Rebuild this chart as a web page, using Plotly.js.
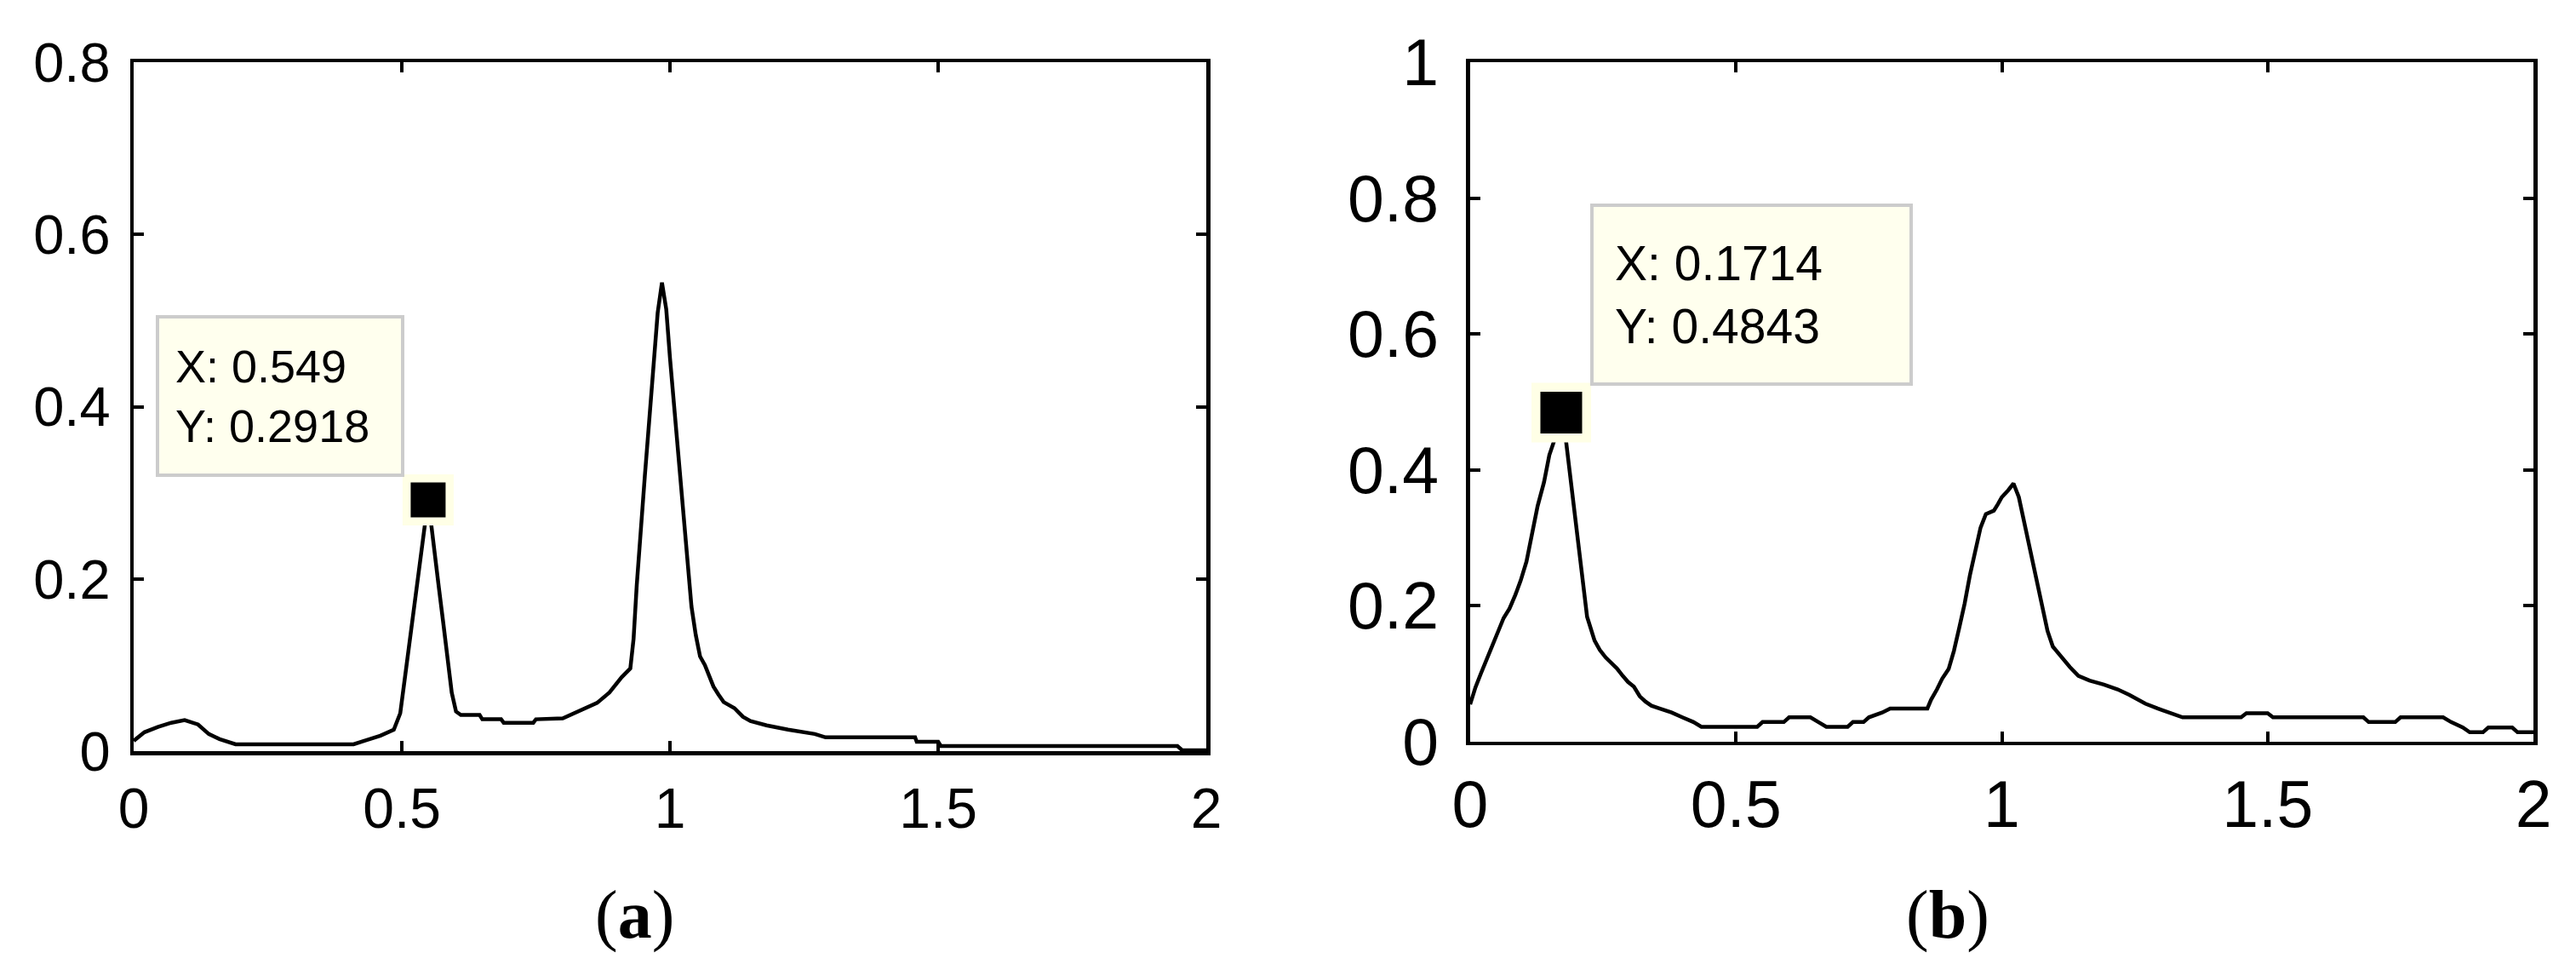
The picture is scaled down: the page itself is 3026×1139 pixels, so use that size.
<!DOCTYPE html>
<html>
<head>
<meta charset="utf-8">
<script src="https://cdn.plot.ly/plotly-3.0.1.min.js"></script>
<style>
  html, body { margin: 0; padding: 0; background: #fff; }
  #plot { width: 3026px; height: 1139px; }
</style>
</head>
<body>
<div id="plot"></div>
<script>
// panel (a): spectrum with peaks near 0.55 and 1
let xA = [0, 0.02, 0.045, 0.07, 0.095, 0.12, 0.14, 0.16, 0.19, 0.41, 0.43, 0.46, 0.485,
  0.497, 0.505, 0.513, 0.521, 0.529, 0.537, 0.543, 0.549, 0.555, 0.56, 0.569, 0.577, 0.585,
  0.593, 0.601, 0.61, 0.645, 0.65, 0.685, 0.69, 0.745, 0.75, 0.80, 0.83, 0.864, 0.887, 0.91,
  0.926, 0.932, 0.938, 0.945, 0.953, 0.961, 0.969, 0.977, 0.985, 0.993, 1.0, 1.008, 1.016,
  1.024, 1.032, 1.04, 1.048, 1.056, 1.065, 1.073, 1.081, 1.09, 1.1, 1.12, 1.136, 1.15, 1.18,
  1.22, 1.27, 1.29, 1.457, 1.46, 1.5, 1.505, 1.946, 1.955, 2.0];
let yA = [0.012, 0.022, 0.028, 0.033, 0.036, 0.031, 0.02, 0.014, 0.008, 0.008, 0.012, 0.018, 0.025,
  0.044, 0.082, 0.121, 0.16, 0.198, 0.237, 0.262, 0.2918, 0.262, 0.233, 0.19, 0.15, 0.107,
  0.068, 0.046, 0.042, 0.042, 0.037, 0.037, 0.033, 0.033, 0.037, 0.038, 0.046, 0.056, 0.068, 0.086,
  0.096, 0.13, 0.193, 0.256, 0.319, 0.382, 0.446, 0.509, 0.544, 0.513, 0.456, 0.398, 0.34,
  0.285, 0.228, 0.168, 0.135, 0.11, 0.1, 0.088, 0.075, 0.066, 0.057, 0.05, 0.04, 0.035, 0.03,
  0.025, 0.02, 0.016, 0.016, 0.011, 0.011, 0.006, 0.006, 0.001, 0.001];

// panel (b)
let xB = [0, 0.01, 0.02, 0.031, 0.041, 0.052, 0.063, 0.074, 0.085, 0.095, 0.106, 0.116, 0.127,
  0.139, 0.149, 0.159, 0.1714, 0.18, 0.19, 0.2, 0.21, 0.22, 0.234, 0.244, 0.255, 0.266, 0.276,
  0.287, 0.297, 0.308, 0.319, 0.33, 0.341, 0.356, 0.379, 0.399, 0.42, 0.435, 0.54, 0.55, 0.59,
  0.6, 0.64, 0.655, 0.67, 0.71, 0.72, 0.74, 0.75, 0.775, 0.79, 0.86, 0.867, 0.878, 0.888, 0.9,
  0.91, 0.92, 0.93, 0.94, 0.95, 0.96, 0.97, 0.985, 0.993, 1.0, 1.012, 1.022, 1.032, 1.043,
  1.054, 1.065, 1.075, 1.086, 1.096, 1.108, 1.118, 1.128, 1.144, 1.165, 1.192, 1.218, 1.24,
  1.255, 1.27, 1.293, 1.32, 1.34, 1.45, 1.46, 1.5, 1.51, 1.68, 1.69, 1.74, 1.75, 1.83, 1.845,
  1.867, 1.88, 1.905, 1.915, 1.96, 1.97, 2.0];
let yB = [0.055, 0.08, 0.1, 0.12, 0.141, 0.161, 0.182, 0.196, 0.216, 0.237, 0.265, 0.306, 0.347,
  0.382, 0.422, 0.445, 0.4843, 0.445, 0.382, 0.314, 0.251, 0.184, 0.149, 0.135, 0.124, 0.116, 0.108,
  0.097, 0.088, 0.081, 0.067, 0.059, 0.053, 0.049, 0.043, 0.036, 0.029, 0.022, 0.022, 0.029, 0.029,
  0.036, 0.036, 0.029, 0.022, 0.022, 0.029, 0.029, 0.036, 0.043, 0.049, 0.049, 0.062, 0.077, 0.093, 0.107,
  0.134, 0.168, 0.203, 0.245, 0.28, 0.315, 0.335, 0.34, 0.35, 0.36, 0.37, 0.38, 0.36, 0.32,
  0.28, 0.245, 0.204, 0.163, 0.14, 0.128, 0.12, 0.11, 0.097, 0.09, 0.084, 0.077, 0.069,
  0.062, 0.056, 0.049, 0.042, 0.036, 0.036, 0.042, 0.042, 0.036, 0.036, 0.029, 0.029, 0.036, 0.036, 0.029,
  0.021, 0.014, 0.014, 0.021, 0.021, 0.014, 0.014];

// data tips
let tipAX = [0.549], tipAY = [0.2918];
let tipBX = [0.1714], tipBY = [0.4843];

let tickFont = size => ({family: "Liberation Sans, Arial, sans-serif", size: size, color: "#000"});

let lineA = {x: xA, y: yA, type: "scatter", mode: "lines",
  line: {color: "#000", width: 4.5}, xaxis: "x", yaxis: "y"};
let lineB = {x: xB, y: yB, type: "scatter", mode: "lines",
  line: {color: "#000", width: 4.5}, xaxis: "x2", yaxis: "y2"};

// tip marker: pale square behind a black square
let tipMarker = (x, y, ax, ay, outer, inner) => [
  {x: x, y: y, xaxis: ax, yaxis: ay, type: "scatter", mode: "markers",
   marker: {symbol: "square", size: outer, color: "#ffffe6", line: {width: 0}}},
  {x: x, y: y, xaxis: ax, yaxis: ay, type: "scatter", mode: "markers",
   marker: {symbol: "square", size: inner, color: "#000", line: {width: 0}}}
];

let data = [lineA, lineB]
  .concat(tipMarker(tipAX, tipAY, "x", "y", 60, 41))
  .concat(tipMarker(tipBX, tipBY, "x2", "y2", 70, 49));

let axisBase = {
  showline: true, linecolor: "#000", linewidth: 4.5, mirror: "ticks",
  ticks: "inside", ticklen: 12, tickwidth: 4, tickcolor: "#000",
  showgrid: false, zeroline: false, fixedrange: true
};

let layout = {
  width: 3026, height: 1139,
  margin: {l: 0, r: 0, t: 0, b: 0},
  paper_bgcolor: "#fff", plot_bgcolor: "#fff",
  showlegend: false, hovermode: false,
  xaxis: Object.assign({}, axisBase, {domain: [0.0519, 0.4683], range: [0, 2], dtick: 0.5,
    anchor: "y", tickfont: tickFont(66), ticklabelstandoff: 6}),
  yaxis: Object.assign({}, axisBase, {domain: [0.2256, 0.9359], range: [0, 0.8], dtick: 0.2,
    anchor: "x", tickfont: tickFont(65), ticklabelstandoff: 10}),
  xaxis2: Object.assign({}, axisBase, {domain: [0.5707, 0.9835], range: [0, 2], dtick: 0.5,
    anchor: "y2", tickfont: tickFont(77), ticklabelstandoff: 3}),
  yaxis2: Object.assign({}, axisBase, {domain: [0.2353, 0.9359], range: [0, 1], dtick: 0.2,
    anchor: "x2", tickfont: tickFont(77), ticklabelstandoff: 17}),
  annotations: [
    {xref: "x", yref: "y", x: tipAX[0], y: tipAY[0], showarrow: false,
     xanchor: "right", yanchor: "bottom", xshift: -28, yshift: 27,
     text: "X: " + tipAX[0] + "<br>Y: " + tipAY[0], align: "left", valign: "middle",
     width: 246, height: 144, bgcolor: "#ffffee", bordercolor: "#cccccc",
     borderwidth: 4, borderpad: 19, font: tickFont(54)},
    {xref: "x2", yref: "y2", x: tipBX[0], y: tipBY[0], showarrow: false,
     xanchor: "left", yanchor: "bottom", xshift: 34, yshift: 32,
     text: "X: " + tipBX[0] + "<br>Y: " + tipBY[0], align: "left", valign: "middle",
     width: 321, height: 156, bgcolor: "#ffffee", bordercolor: "#cccccc",
     borderwidth: 4, borderpad: 25, font: tickFont(57)},
    {xref: "paper", yref: "paper", x: 0.2465, y: 0.057, showarrow: false,
     xanchor: "center", yanchor: "middle", text: "(<b>a</b>)",
     font: {family: "Liberation Serif, Times New Roman, serif", size: 80, color: "#000"}},
    {xref: "paper", yref: "paper", x: 0.756, y: 0.057, showarrow: false,
     xanchor: "center", yanchor: "middle", text: "(<b>b</b>)",
     font: {family: "Liberation Serif, Times New Roman, serif", size: 80, color: "#000"}}
  ]
};

Plotly.newPlot("plot", data, layout, {staticPlot: true, displayModeBar: false});
</script>
</body>
</html>
